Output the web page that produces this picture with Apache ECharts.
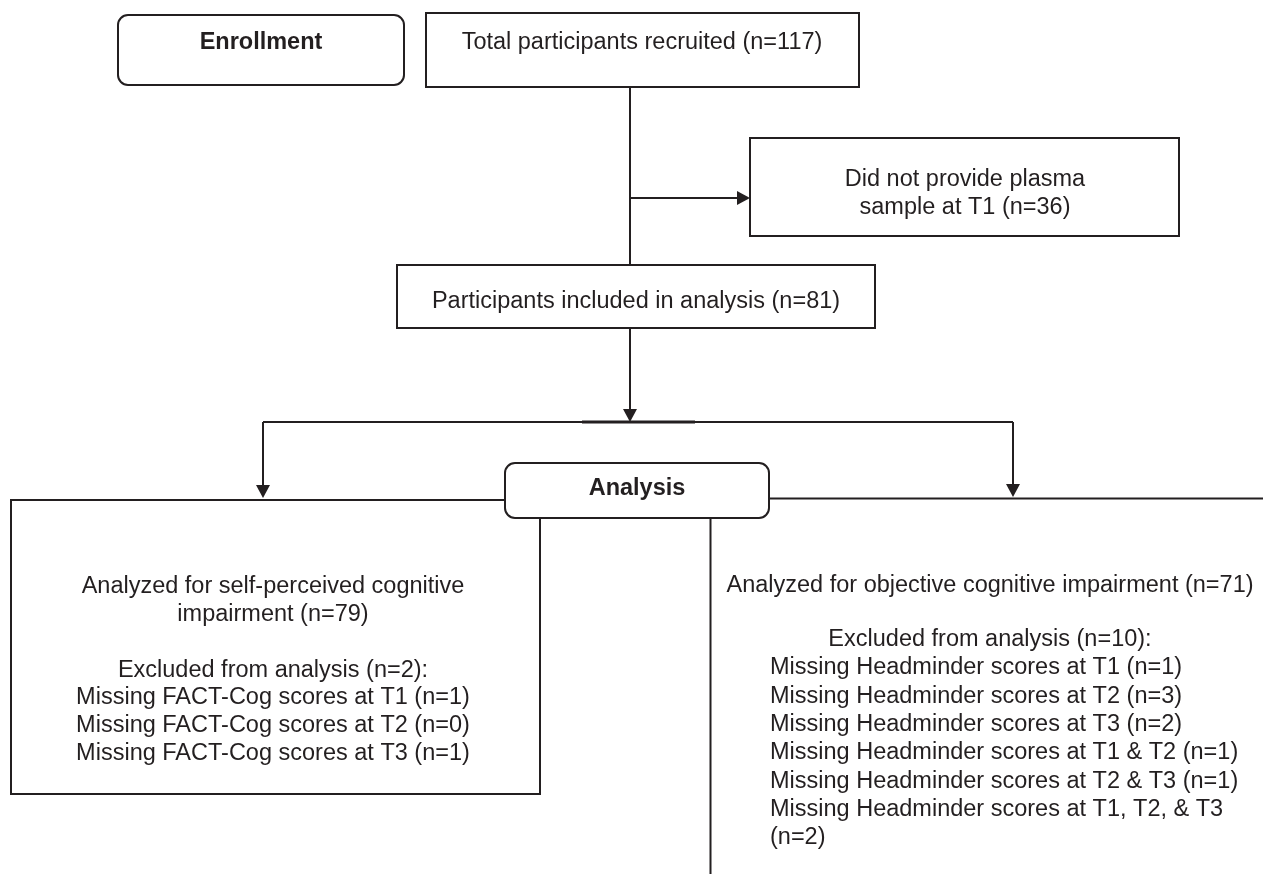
<!DOCTYPE html>
<html>
<head>
<meta charset="utf-8">
<script src="https://cdn.jsdelivr.net/npm/echarts@6/dist/echarts.min.js"></script>
<style>
html,body{margin:0;padding:0;background:#fff;}
#chart{width:1263px;height:874px;}
</style>
</head>
<body>
<div id="chart"></div>
<script>
// ---- content (text only) ----
const stageLabels = ['Enrollment', 'Analysis'];
const flowBoxTexts = [
  'Total participants recruited (n=117)',
  'Did not provide plasma\nsample at T1 (n=36)',
  'Participants included in analysis (n=81)'
];
const selfPerceivedLines = [
  'Analyzed for self-perceived cognitive',
  'impairment (n=79)',
  '',
  'Excluded from analysis (n=2):',
  'Missing FACT-Cog scores at T1 (n=1)',
  'Missing FACT-Cog scores at T2 (n=0)',
  'Missing FACT-Cog scores at T3 (n=1)'
];
const objectiveHeaderLines = [
  'Analyzed for objective cognitive impairment (n=71)',
  '',
  'Excluded from analysis (n=10):'
];
const objectiveMissingLines = [
  'Missing Headminder scores at T1 (n=1)',
  'Missing Headminder scores at T2 (n=3)',
  'Missing Headminder scores at T3 (n=2)',
  'Missing Headminder scores at T1 & T2 (n=1)',
  'Missing Headminder scores at T2 & T3 (n=1)',
  'Missing Headminder scores at T1, T2, & T3',
  '(n=2)'
];

// ---- layout (positions in chart units; axes map 1:1 to pixels) ----
const W = 1263, H = 874;
const INK = '#231f20';
const FONT = '"Liberation Sans", Arial, Helvetica, sans-serif';
const FS = 23.5;

const chart = echarts.init(document.getElementById('chart'), null, {renderer: 'canvas'});

function renderItem(params, api) {
  const P = (x, y) => api.coord([x, y]);
  const children = [];
  function rect(x1, y1, x2, y2, r, lw) {
    const a = P(x1, y1), b = P(x2, y2);
    children.push({type: 'rect', shape: {x: a[0], y: a[1], width: b[0] - a[0], height: b[1] - a[1], r: r || 0},
      style: {fill: '#fff', stroke: INK, lineWidth: lw || 2}});
  }
  function line(x1, y1, x2, y2, lw) {
    const a = P(x1, y1), b = P(x2, y2);
    children.push({type: 'line', shape: {x1: a[0], y1: a[1], x2: b[0], y2: b[1]},
      style: {stroke: INK, lineWidth: lw || 2}});
  }
  function arrowDown(x, tipY) {
    const t = P(x, tipY), l = P(x - 7, tipY - 13), r = P(x + 7, tipY - 13);
    children.push({type: 'polygon', shape: {points: [t, l, r]}, style: {fill: INK}});
  }
  function arrowRight(tipX, y) {
    const t = P(tipX, y), a = P(tipX - 13, y - 7), b = P(tipX - 13, y + 7);
    children.push({type: 'polygon', shape: {points: [t, a, b]}, style: {fill: INK}});
  }
  function text(str, x, y, opts) {
    const p = P(x, y);
    opts = opts || {};
    children.push({type: 'text', x: p[0], y: p[1], style: {
      text: str, fill: INK, fontSize: FS, fontFamily: FONT,
      fontWeight: opts.bold ? 'bold' : 'normal',
      align: opts.align || 'center', verticalAlign: 'middle',
      lineHeight: opts.lh || 27.7
    }});
  }

  // connectors
  line(630, 87, 630, 265);
  line(630, 198, 738, 198);
  arrowRight(750, 198);
  line(630, 328, 630, 410);
  arrowDown(630, 422);
  line(263, 422, 1013, 422);
  line(582, 422, 695, 422, 3);
  line(263, 422, 263, 486);
  arrowDown(263, 498);
  line(1013, 422, 1013, 485);
  arrowDown(1013, 497);

  // top boxes
  rect(118, 15, 404, 85, 10);
  rect(426, 13, 859, 87);
  rect(750, 138, 1179, 236);
  rect(397, 265, 875, 328);

  // lower left box
  rect(11, 500, 540, 794);
  // lower right open box
  line(769, 498.5, W + 5, 498.5);
  line(710.5, 518, 710.5, H + 5);
  // Analysis stage box on top
  rect(505, 463, 769, 518, 10);

  // texts
  text(stageLabels[0], 261, 43, {bold: true});
  text(stageLabels[1], 637, 489, {bold: true});
  text(flowBoxTexts[0], 642, 43);
  text(flowBoxTexts[1], 965, 193.5);
  text(flowBoxTexts[2], 636, 302);

  selfPerceivedLines.forEach((s, i) => { if (s) text(s, 273, 587 + i * 27.7); });
  objectiveHeaderLines.forEach((s, i) => { if (s) text(s, 990, 586 + i * 27); });
  objectiveMissingLines.forEach((s, i) => { text(s, 770, 668 + i * 28.3, {align: 'left'}); });

  return {type: 'group', children: children};
}

chart.setOption({
  animation: false,
  backgroundColor: '#fff',
  grid: {left: 0, right: 0, top: 0, bottom: 0},
  xAxis: {type: 'value', min: 0, max: W, show: false},
  yAxis: {type: 'value', min: 0, max: H, inverse: true, show: false},
  series: [{
    type: 'custom',
    coordinateSystem: 'cartesian2d',
    clip: false,
    silent: true,
    renderItem: renderItem,
    data: [[0, 0]]
  }]
});
</script>
</body>
</html>
